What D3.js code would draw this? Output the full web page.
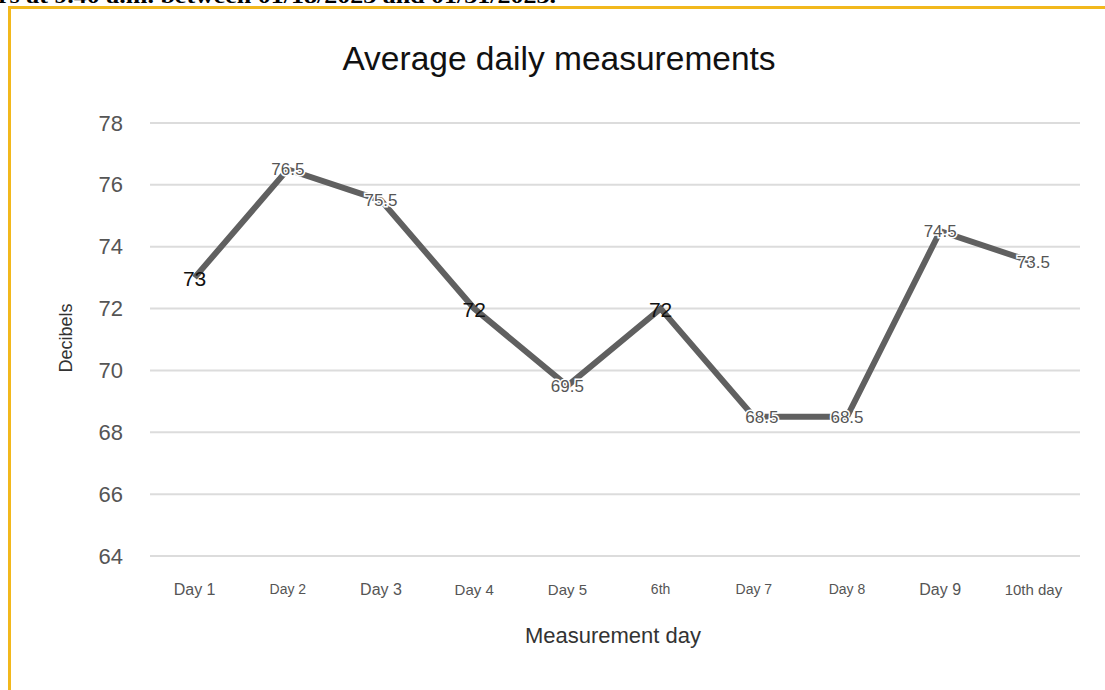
<!DOCTYPE html>
<html><head><meta charset="utf-8">
<script src="https://cdn.jsdelivr.net/npm/d3@7"></script>
<style>body{margin:0;background:#fff;}svg{display:block;}</style>
</head><body>
<svg id="c" width="1105" height="690"></svg>
<script>
const categories = ["Day 1","Day 2","Day 3","Day 4","Day 5","6th","Day 7","Day 8","Day 9","10th day"];
const values = [73, 76.5, 75.5, 72, 69.5, 72, 68.5, 68.5, 74.5, 73.5];
const labels = ["73","76.5","75.5","72","69.5","72","68.5","68.5","74.5","73.5"];
const yTicks = [64, 66, 68, 70, 72, 74, 76, 78];
const bigLabels = [true,false,false,true,false,true,false,false,false,false];
const tickSizes = [16,14,16,15,15,14,14,14,16,15];

const svg = d3.select("#c");
svg.append("rect").attr("width",1105).attr("height",690).attr("fill","#fff");
// caption fragment cut at top
svg.append("text").attr("x",-2).attr("y",3).attr("font-family","Liberation Serif, serif")
  .attr("font-weight","bold").attr("font-size",22).attr("fill","#000")
  .attr("textLength",558).attr("lengthAdjust","spacingAndGlyphs")
  .text("rs at 9.40 a.m. between 01/18/2023 and 01/31/2023.");
// frame
svg.append("path").attr("d","M9.5,690 V7.5 H1105").attr("fill","none").attr("stroke","#f2b81c").attr("stroke-width",3);

const x = d3.scaleBand().domain(categories).range([148,1080]);
const y = d3.scaleLinear().domain([64,78]).range([556,123]);

// grid
svg.append("g").selectAll("line").data(yTicks).join("line")
  .attr("x1",150).attr("x2",1080).attr("y1",d=>y(d)).attr("y2",d=>y(d))
  .attr("stroke","#dcdcdc").attr("stroke-width",2);

// y axis labels
const ya = svg.append("g").attr("transform","translate(123,0)")
  .call(d3.axisLeft(y).tickValues(yTicks).tickSize(0).tickPadding(0));
ya.select(".domain").remove();
ya.selectAll("text").attr("font-family","Liberation Sans, Arial, sans-serif").attr("font-size",22).attr("fill","#555");

// x axis labels
const xa = svg.append("g").attr("transform","translate(0,584)")
  .call(d3.axisBottom(x).tickSize(0).tickPadding(0));
xa.select(".domain").remove();
xa.selectAll("text").attr("font-family","Liberation Sans, Arial, sans-serif")
  .attr("font-size",(d,i)=>tickSizes[i]).attr("fill","#555");

// title
svg.append("text").attr("x",559).attr("y",70).attr("text-anchor","middle")
  .attr("font-family","Liberation Sans, Arial, sans-serif").attr("font-size",33.5).attr("fill","#111")
  .text("Average daily measurements");
svg.append("text").attr("x",613).attr("y",643).attr("text-anchor","middle")
  .attr("font-family","Liberation Sans, Arial, sans-serif").attr("font-size",22).attr("fill","#333")
  .text("Measurement day");
svg.append("text").attr("transform","translate(72,338) rotate(-90)").attr("text-anchor","middle")
  .attr("font-family","Liberation Sans, Arial, sans-serif").attr("font-size",18).attr("fill","#333")
  .text("Decibels");

// line
const line = d3.line().x((d,i)=>x(categories[i])+x.bandwidth()/2).y(d=>y(d));
svg.append("path").datum(values).attr("d",line).attr("fill","none")
  .attr("stroke","#606060").attr("stroke-width",6).attr("stroke-linejoin","miter");

// labels
svg.append("g").selectAll("text").data(values).join("text")
  .attr("x",(d,i)=>x(categories[i])+x.bandwidth()/2 + (i===6?8:0))
  .attr("y",(d,i)=>y(d)+ (bigLabels[i]?8:6))
  .attr("text-anchor","middle")
  .attr("font-family","Liberation Sans, Arial, sans-serif")
  .attr("font-size",(d,i)=>bigLabels[i]?21:17)
  .attr("fill",(d,i)=>bigLabels[i]?"#111":"#555")
  .attr("stroke",(d,i)=>bigLabels[i]?"none":"#fff").attr("stroke-width",3).attr("paint-order","stroke")
  .text((d,i)=>labels[i]);
</script>
</body></html>
